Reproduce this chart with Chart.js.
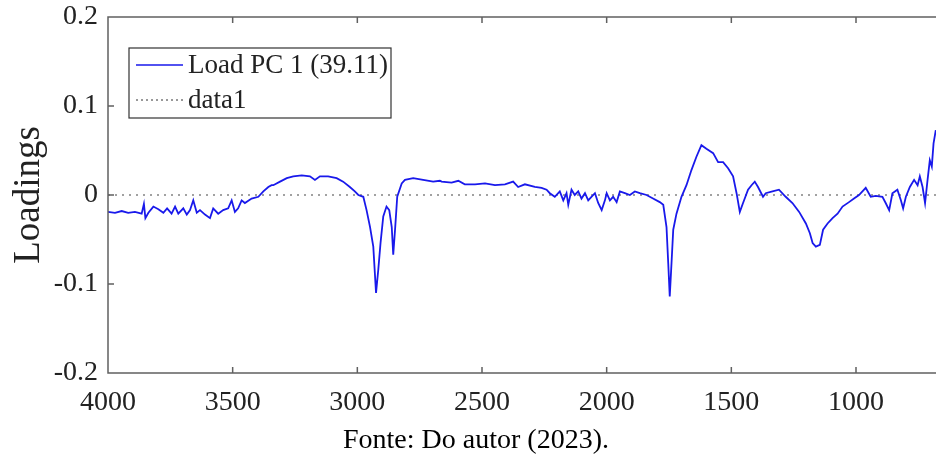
<!DOCTYPE html>
<html>
<head>
<meta charset="utf-8">
<script src="https://cdn.jsdelivr.net/npm/chart.js@4"></script>
<style>
    html, body { margin: 0; padding: 0; background: #fff; overflow: hidden; width: 936px; height: 455px; }
    #wrap { position: absolute; left: 0; top: 0; width: 960px; height: 455px; }
    #fonte { position: absolute; left: 343px; top: 425px; font: 28px/28px "Liberation Serif", "Times New Roman", serif; color: #000; white-space: nowrap; }
</style>
</head>
<body>
<div id="wrap"><canvas id="chart" width="960" height="455"></canvas></div>
<div id="fonte">Fonte: Do autor (2023).</div>
<script>
// Números de onda (cm-1)
const wavenumbers = [
    4000, 3972, 3945, 3919, 3892, 3865, 3856, 3850, 3838, 3818, 3798, 3778, 3763, 3745, 3731, 3718,
    3698, 3684, 3671, 3658, 3644, 3631, 3611, 3591, 3578, 3558, 3538, 3518, 3504, 3491, 3478, 3464,
    3451, 3424, 3397, 3377, 3357, 3344, 3337, 3310, 3283, 3257, 3223, 3190, 3170, 3150, 3117, 3083,
    3057, 3030, 3010, 2996, 2976, 2963, 2949, 2936, 2925, 2916, 2907, 2896, 2883, 2872, 2862, 2856,
    2848, 2840, 2822, 2809, 2776, 2736, 2696, 2669, 2662, 2622, 2595, 2569, 2528, 2488, 2448, 2408,
    2375, 2355, 2328, 2288, 2261, 2241, 2228, 2208, 2188, 2174, 2161, 2154, 2141, 2128, 2114, 2101,
    2087, 2074, 2061, 2047, 2034, 2020, 2007, 2000, 1987, 1974, 1960, 1947, 1927, 1907, 1887, 1867,
    1840, 1814, 1787, 1773, 1760, 1753, 1747, 1740, 1733, 1720, 1700, 1680, 1660, 1640, 1620, 1600,
    1573, 1553, 1533, 1513, 1493, 1479, 1466, 1453, 1433, 1419, 1406, 1393, 1373, 1362, 1335, 1309,
    1282, 1255, 1228, 1201, 1185, 1174, 1161, 1145, 1132, 1114, 1094, 1074, 1054, 1028, 1008, 988,
    961, 941, 921, 894, 881, 867, 854, 834, 820, 811, 800, 784, 767, 753, 744, 733,
    723, 713, 704, 696, 689, 680
];

// Loadings da PC 1
const loadPC1 = [
    -0.019, -0.020, -0.018, -0.020, -0.019, -0.021, -0.010, -0.026, -0.020, -0.013, -0.016, -0.020, -0.015, -0.021, -0.013, -0.021,
    -0.015, -0.022, -0.017, -0.006, -0.020, -0.017, -0.022, -0.026, -0.015, -0.021, -0.017, -0.015, -0.006, -0.019, -0.015, -0.006,
    -0.009, -0.004, -0.002, 0.004, 0.009, 0.011, 0.011, 0.015, 0.019, 0.021, 0.022, 0.021, 0.017, 0.021, 0.021, 0.019,
    0.015, 0.009, 0.004, 0.000, -0.002, -0.017, -0.036, -0.058, -0.110, -0.084, -0.054, -0.024, -0.013, -0.017, -0.036, -0.067,
    -0.036, -0.002, 0.013, 0.017, 0.019, 0.017, 0.015, 0.016, 0.015, 0.014, 0.016, 0.012, 0.012, 0.013, 0.011, 0.012,
    0.015, 0.009, 0.012, 0.009, 0.008, 0.006, 0.002, -0.002, 0.004, -0.006, 0.002, -0.011, 0.006, 0.000, 0.004, -0.004,
    0.002, -0.006, -0.002, 0.002, -0.009, -0.017, -0.006, 0.002, -0.006, -0.002, -0.008, 0.004, 0.002, 0.000, 0.004, 0.002,
    0.000, -0.004, -0.008, -0.011, -0.036, -0.077, -0.114, -0.077, -0.039, -0.021, -0.002, 0.011, 0.028, 0.043, 0.056, 0.052,
    0.047, 0.037, 0.037, 0.030, 0.021, 0.002, -0.019, -0.009, 0.006, 0.011, 0.015, 0.009, -0.002, 0.002, 0.004, 0.006,
    -0.002, -0.009, -0.019, -0.032, -0.043, -0.054, -0.058, -0.056, -0.039, -0.032, -0.026, -0.021, -0.013, -0.008, -0.004, 0.000,
    0.008, -0.002, -0.001, -0.002, -0.009, -0.017, 0.002, 0.006, -0.006, -0.015, -0.002, 0.009, 0.017, 0.011, 0.021, 0.009,
    -0.009, 0.017, 0.039, 0.032, 0.058, 0.073
];

// Linha pontilhada "data1" (zero)
const zeroLineX = [4000, 623];
const zeroLineY = [0, 0];

const seriesLabels = ['Load PC 1 (39.11)', 'data1'];
const xTicks = [4000, 3500, 3000, 2500, 2000, 1500, 1000];
const yTicks = [-0.2, -0.1, 0, 0.1, 0.2];

const FONT = '"Liberation Serif", "Times New Roman", serif';
const BLUE = 'rgb(25, 25, 235)';

// Moldura com marcas internas e legenda em caixa
const framePlugin = {
    id: 'frame',
    afterDraw(chart) {
        const { ctx, chartArea: a, scales: { x, y } } = chart;
        ctx.save();
        ctx.strokeStyle = '#606060';
        ctx.lineWidth = 1.5;
        ctx.beginPath();
        ctx.moveTo(a.right, a.top);
        ctx.lineTo(a.left, a.top);
        ctx.lineTo(a.left, a.bottom);
        ctx.lineTo(a.right, a.bottom);
        xTicks.forEach(v => {
            const px = x.getPixelForValue(v);
            ctx.moveTo(px, a.bottom); ctx.lineTo(px, a.bottom - 6);
            ctx.moveTo(px, a.top); ctx.lineTo(px, a.top + 6);
        });
        yTicks.forEach(v => {
            const py = y.getPixelForValue(v);
            ctx.moveTo(a.left, py); ctx.lineTo(a.left + 6, py);
        });
        ctx.stroke();

        // legenda
        const bx = 129, by = 48, bw = 262, bh = 70;
        ctx.fillStyle = '#fff';
        ctx.fillRect(bx, by, bw, bh);
        ctx.strokeStyle = '#333';
        ctx.lineWidth = 1.2;
        ctx.strokeRect(bx, by, bw, bh);

        const rows = [
            { y: 65, color: BLUE, dash: [], width: 1.5 },
            { y: 100, color: '#333', dash: [2, 3], width: 1 }
        ];
        ctx.font = '27px ' + FONT;
        ctx.textBaseline = 'middle';
        rows.forEach((r, i) => {
            ctx.beginPath();
            ctx.setLineDash(r.dash);
            ctx.strokeStyle = r.color;
            ctx.lineWidth = r.width;
            ctx.moveTo(136, r.y);
            ctx.lineTo(183, r.y);
            ctx.stroke();
            ctx.setLineDash([]);
            ctx.fillStyle = '#222';
            ctx.fillText(chart.data.datasets[i].label, 188, r.y + 1);
        });
        ctx.restore();
    }
};

// Sem recuo extra por causa dos rótulos
function noPadding(s) {
    s.paddingTop = 0;
    s.paddingBottom = 0;
    s.paddingLeft = 0;
    s.paddingRight = 0;
}

function createChart() {
    const ctx = document.getElementById('chart').getContext('2d');

    new Chart(ctx, {
        type: 'line',
        data: {
            datasets: [
                {
                    label: seriesLabels[0],
                    data: wavenumbers.map((w, i) => ({ x: w, y: loadPC1[i] })),
                    borderColor: BLUE,
                    borderWidth: 1.8,
                    pointRadius: 0,
                    tension: 0,
                    fill: false
                },
                {
                    label: seriesLabels[1],
                    data: zeroLineX.map((w, i) => ({ x: w, y: zeroLineY[i] })),
                    borderColor: '#444',
                    borderWidth: 1.2,
                    borderDash: [2, 5],
                    pointRadius: 0,
                    fill: false
                }
            ]
        },
        options: {
            responsive: false,
            animation: false,
            devicePixelRatio: 1,
            layout: { padding: { top: 17, right: 10, left: 0, bottom: 0 } },
            plugins: {
                legend: { display: false },
                tooltip: { enabled: false }
            },
            scales: {
                x: {
                    type: 'linear',
                    reverse: true,
                    min: 623,
                    max: 4000,
                    afterBuildTicks: s => { s.ticks = xTicks.map(v => ({ value: v })); },
                    afterFit: s => { s.height = 82; noPadding(s); },
                    grid: { display: false, drawTicks: false },
                    border: { display: false },
                    ticks: {
                        callback: v => String(v),
                        font: { family: FONT, size: 28 },
                        color: '#222',
                        padding: 13,
                        maxRotation: 0,
                        autoSkip: false
                    }
                },
                y: {
                    min: -0.2,
                    max: 0.2,
                    afterBuildTicks: s => { s.ticks = yTicks.map(v => ({ value: v })); },
                    afterFit: s => { s.width = 108; noPadding(s); },
                    grid: { display: false, drawTicks: false },
                    border: { display: false },
                    ticks: {
                        callback: v => (v === 0 ? '0' : v.toFixed(1)),
                        font: { family: FONT, size: 28 },
                        color: '#222',
                        padding: 10
                    },
                    title: {
                        display: true,
                        text: 'Loadings',
                        font: { family: FONT, size: 37 },
                        color: '#222',
                        padding: { top: 7, bottom: 0 }
                    }
                }
            }
        },
        plugins: [framePlugin]
    });
}

document.addEventListener('DOMContentLoaded', createChart);
</script>
</body>
</html>
